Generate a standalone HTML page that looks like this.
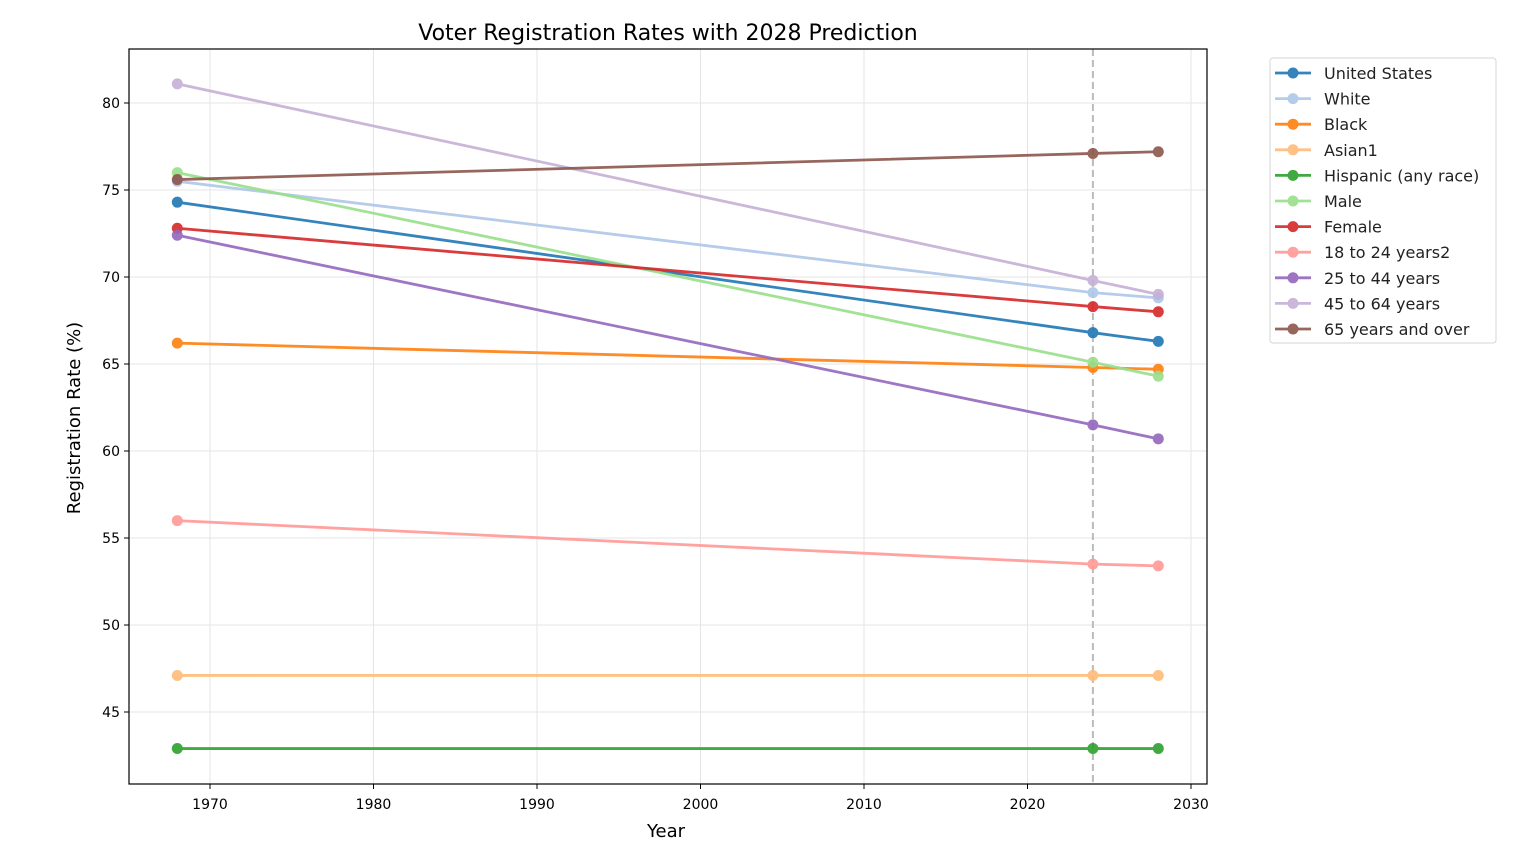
<!DOCTYPE html>
<html><head><meta charset="utf-8"><style>
body{margin:0;background:#fff;}
svg{display:block;font-family:"DejaVu Sans","Liberation Sans",sans-serif;}
</style></head><body>
<svg id="chart" width="1524" height="868"></svg>
<script>
const years=[1968,2024,2028];
const seriesNames=["United States","White","Black","Asian1","Hispanic (any race)","Male","Female","18 to 24 years2","25 to 44 years","45 to 64 years","65 years and over"];
const usVals=[74.3,66.8,66.3];
const whiteVals=[75.5,69.1,68.8];
const blackVals=[66.2,64.8,64.7];
const asianVals=[47.1,47.1,47.1];
const hispanicVals=[42.9,42.9,42.9];
const maleVals=[76.0,65.1,64.3];
const femaleVals=[72.8,68.3,68.0];
const age18Vals=[56.0,53.5,53.4];
const age25Vals=[72.4,61.5,60.7];
const age45Vals=[81.1,69.8,69.0];
const age65Vals=[75.6,77.1,77.2];
const allVals=[usVals,whiteVals,blackVals,asianVals,hispanicVals,maleVals,femaleVals,age18Vals,age25Vals,age45Vals,age65Vals];
const xTicks=[1970,1980,1990,2000,2010,2020,2030];
const yTicks=[45,50,55,60,65,70,75,80];
const colors=["#1f77b4","#aec7e8","#ff7f0e","#ffbb78","#2ca02c","#98df8a","#d62728","#ff9896","#9467bd","#c5b0d5","#8c564b"];
const L=129,R=1207,T=49,B=784;
const xS=v=>210+(v-1970)*(1191-210)/60;
const yS=v=>103+(80-v)*(712-103)/35;
const svg=document.getElementById('chart');
const NS="http://www.w3.org/2000/svg";
function mk(tag,at,parent){const e=document.createElementNS(NS,tag);for(const k in at)e.setAttribute(k,at[k]);(parent||svg).appendChild(e);return e;}
xTicks.forEach(t=>{const x=xS(t);
 const g=mk('line',{x1:x,x2:x,y1:T,y2:B,stroke:'#e5e5e5','stroke-width':1});
 
 
 mk('line',{x1:x,x2:x,y1:B,y2:B+5,stroke:'#000'});
 const tx=mk('text',{x:x,y:B+25,'font-size':14,'text-anchor':'middle',fill:'#000'});tx.textContent=t;
 
 
});
yTicks.forEach(t=>{const y=yS(t);
 const g=mk('line',{x1:L,x2:R,y1:y,y2:y,stroke:'#e5e5e5','stroke-width':1});
 
 
 mk('line',{x1:L-5,x2:L,y1:y,y2:y,stroke:'#000'});
 const tx=mk('text',{x:L-9,y:y+5,'font-size':14,'text-anchor':'end',fill:'#000'});tx.textContent=t;
 
 
});
const dl=mk('line',{x1:xS(2024),x2:xS(2024),y1:T,y2:B,stroke:'#bbb','stroke-width':2,'stroke-dasharray':'7,4'});


allVals.forEach((vals,i)=>{
 const g=mk('g',{opacity:0.9});
 
 
 mk('polyline',{points:years.map((y,j)=>xS(y)+','+yS(vals[j])).join(' '),fill:'none',stroke:colors[i],'stroke-width':2.8},g);
 years.forEach((y,j)=>{const c=mk('circle',{cx:xS(y),cy:yS(vals[j]),r:5.5,fill:colors[i]},g);
  
  });
});
const fr=mk('rect',{x:L,y:T,width:R-L,height:B-T,fill:'none',stroke:'#000','stroke-width':1.2});


const ti=mk('text',{x:668,y:40,'font-size':22,'text-anchor':'middle',fill:'#000'});ti.textContent='Voter Registration Rates with 2028 Prediction';


const xl=mk('text',{x:666,y:837,'font-size':18,'text-anchor':'middle',fill:'#000'});xl.textContent='Year';


const yl=mk('text',{x:80,y:418,'font-size':18,'text-anchor':'middle',fill:'#000',transform:'rotate(-90 80 418)'});yl.textContent='Registration Rate (%)';


const lg=mk('g',{});


mk('rect',{x:1270,y:58,width:226,height:285,rx:3,fill:'#fff',stroke:'#d5d5d5'},lg);
seriesNames.forEach((n,i)=>{const y=73+i*25.6;
 const e=mk('g',{opacity:0.9},lg);
 
 
 mk('line',{x1:1275,x2:1311,y1:y,y2:y,stroke:colors[i],'stroke-width':2.8},e);
 mk('circle',{cx:1293,cy:y,r:5.5,fill:colors[i]},e);
 const t=mk('text',{x:1324,y:y+6,'font-size':16,fill:'#222'},lg);t.textContent=n;
});
</script>
</body></html>
